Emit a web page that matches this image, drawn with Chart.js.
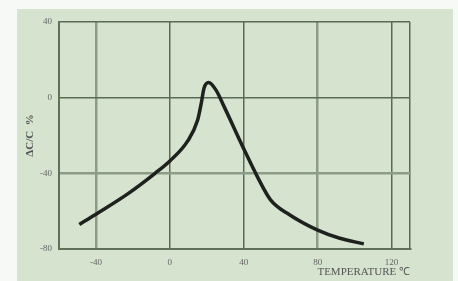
<!DOCTYPE html>
<html>
<head>
<meta charset="utf-8">
<script src="https://cdn.jsdelivr.net/npm/chart.js@4"></script>
<style>
  html, body { margin: 0; padding: 0; background: #f7f9f6; }
  #wrap { width: 458px; height: 281px; }
</style>
</head>
<body>
<div id="wrap"><canvas id="capChart" width="458" height="281"></canvas></div>
<script>
// temperature (deg C) vs capacitance change (%)
const temps = [-49, -40, -23, -8, 0, 9.6, 15, 17, 18.5, 21, 25, 29.5, 40, 47.5, 54.5, 65, 80, 92, 105];
const deltaC = [-67, -61.6, -51, -40, -33.5, -23, -12, -3, 5, 8, 4, -5, -27, -42, -54, -62, -70, -74.3, -77.3];
const xTicks = [-40, 0, 40, 80, 120];
const yTicks = [-80, -40, 0, 40];

const panelBg = {
    id: 'panelBg',
    beforeDraw(chart) {
        const c = chart.ctx;
        c.save();
        c.fillStyle = '#d5e3cf';
        c.fillRect(17, 9, 436, 272);
        c.restore();
    }
};

const tickFont = { family: '"Liberation Serif", serif', size: 9 };
const lightLine = v => v === -40 || v === 80;

const ctx = document.getElementById('capChart').getContext('2d');
const capChart = new Chart(ctx, {
    type: 'line',
    data: {
        datasets: [{
            data: temps.map((t, i) => ({ x: t, y: deltaC[i] })),
            borderColor: '#1e211d',
            borderWidth: 3.5,
            pointRadius: 0,
            cubicInterpolationMode: 'monotone',
            fill: false,
        }]
    },
    options: {
        responsive: false,
        animation: false,
        layout: { padding: { top: 22, right: 48, left: 0, bottom: 0 } },
        scales: {
            x: {
                type: 'linear',
                min: -60,
                max: 130,
                afterBuildTicks: axis => {
                    axis.ticks = xTicks.concat([130]).map(v => ({ value: v }));
                },
                afterFit: axis => { axis.height = 32; },
                ticks: {
                    padding: 8,
                    color: '#666',
                    font: tickFont,
                    callback: v => (v === 130 ? '' : v),
                },
                grid: {
                    drawTicks: false,
                    color: c => (c.tick && lightLine(c.tick.value) ? '#8c9d87' : '#586b53'),
                    lineWidth: c => (c.tick && lightLine(c.tick.value) ? 2.5 : 1.5),
                },
                border: { color: '#5f705a', width: 2 },
                title: {
                    display: true,
                    text: 'TEMPERATURE ℃',
                    align: 'end',
                    color: '#555',
                    font: { family: '"Liberation Serif", serif', size: 11 },
                    padding: { top: 0, bottom: 2 },
                },
            },
            y: {
                min: -80,
                max: 40,
                afterBuildTicks: axis => {
                    axis.ticks = yTicks.map(v => ({ value: v }));
                },
                afterFit: axis => { axis.width = 59; },
                ticks: {
                    padding: 7,
                    color: '#666',
                    font: tickFont,
                },
                grid: {
                    drawTicks: false,
                    color: c => (c.tick && c.tick.value === -40 ? '#8c9d87' : '#586b53'),
                    lineWidth: c => (c.tick && c.tick.value === -40 ? 2.5 : 1.5),
                },
                border: { color: '#5f705a', width: 2 },
                title: {
                    display: true,
                    text: 'ΔC/C  %',
                    color: '#555',
                    font: { family: '"Liberation Serif", serif', size: 11, weight: 'bold' },
                    padding: { top: 24, bottom: 0 },
                },
            },
        },
        plugins: {
            legend: { display: false },
            tooltip: { enabled: false },
        }
    },
    plugins: [panelBg],
});
</script>
</body>
</html>
